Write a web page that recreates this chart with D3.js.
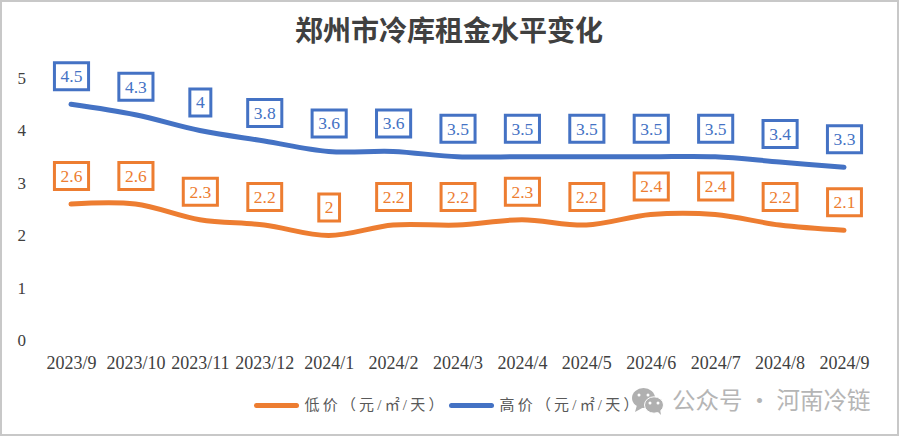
<!DOCTYPE html>
<html>
<head>
<meta charset="utf-8">
<script src="https://cdn.jsdelivr.net/npm/d3@7"></script>
<style>
html, body { margin: 0; padding: 0; background: #fff; }
svg { display: block; }
text { font-family: "Liberation Serif", "Noto Sans CJK SC", serif; }
</style>
</head>
<body>
<div id="chart"></div>
<script>
const months = ["2023/9", "2023/10", "2023/11", "2023/12", "2024/1", "2024/2", "2024/3", "2024/4", "2024/5", "2024/6", "2024/7", "2024/8", "2024/9"];
const lowPrice = [2.6, 2.6, 2.3, 2.2, 2, 2.2, 2.2, 2.3, 2.2, 2.4, 2.4, 2.2, 2.1];
const highPrice = [4.5, 4.3, 4, 3.8, 3.6, 3.6, 3.5, 3.5, 3.5, 3.5, 3.5, 3.4, 3.3];
const yTicks = [0, 1, 2, 3, 4, 5];
const titleText = "郑州市冷库租金水平变化";
const lowName = "低价（元/㎡/天）";
const highName = "高价（元/㎡/天）";
const watermarkText = "公众号 · 河南冷链";

const width = 899, height = 436;
const colorLow = "#ED7D31", colorHigh = "#4472C4", colorText = "#404040";

let svg = d3.select("#chart").append("svg")
	.attr("width", width)
	.attr("height", height);

// grey frame of the screenshot
svg.append("rect")
	.attr("x", 1).attr("y", 1)
	.attr("width", width - 2).attr("height", height - 2)
	.attr("fill", "#fff")
	.attr("stroke", "#c8c8c8")
	.attr("stroke-width", 2);

svg.append("text")
	.attr("x", 449).attr("y", 41)
	.attr("text-anchor", "middle")
	.attr("font-size", 28)
	.attr("font-weight", "bold")
	.attr("fill", colorText)
	.text(titleText);

let x = d3.scalePoint().domain(months).range([71, 844]);
let y = d3.scaleLinear().domain([0, 5]).range([340.5, 78]);

let xAxis = svg.append("g")
	.attr("transform", "translate(0,356)")
	.call(d3.axisBottom(x).tickSize(0).tickPadding(0));
xAxis.select(".domain").remove();
xAxis.selectAll("text")
	.attr("font-size", 18)
	.attr("fill", colorText);

let yAxis = svg.append("g")
	.attr("transform", "translate(26,0)")
	.call(d3.axisLeft(y).tickValues(yTicks).tickFormat(d3.format("d")).tickSize(0).tickPadding(0));
yAxis.select(".domain").remove();
yAxis.selectAll("text")
	.attr("font-size", 17)
	.attr("fill", colorText);

let line = d3.line()
	.x((d, i) => x(months[i]))
	.y((d) => y(d))
	.curve(d3.curveCatmullRom);

function drawSeries(values, color) {
	svg.append("path")
		.datum(values)
		.attr("d", line)
		.attr("fill", "none")
		.attr("stroke", color)
		.attr("stroke-width", 5)
		.attr("stroke-linecap", "round");

	let labels = svg.append("g").selectAll("g")
		.data(values)
		.join("g")
		.attr("transform", (d, i) => `translate(${x(months[i]) + 0.5},${y(d) - 28})`);

	labels.append("text")
		.attr("text-anchor", "middle")
		.attr("dy", "0.34em")
		.attr("font-size", 17.5)
		.attr("fill", color)
		.text((d) => d);

	labels.insert("rect", "text")
		.each(function() {
			let w = this.parentNode.querySelector("text").getBBox().width + 12;
			d3.select(this)
				.attr("x", -w / 2).attr("y", -13.5)
				.attr("width", w).attr("height", 27);
		})
		.attr("fill", "#fff")
		.attr("stroke", color)
		.attr("stroke-width", 3);
}

drawSeries(lowPrice, colorLow);
drawSeries(highPrice, colorHigh);

function drawLegend(lx, name, color) {
	svg.append("line")
		.attr("x1", lx).attr("x2", lx + 40)
		.attr("y1", 405.5).attr("y2", 405.5)
		.attr("stroke", color)
		.attr("stroke-width", 5)
		.attr("stroke-linecap", "round");
	svg.append("text")
		.attr("x", lx + 48).attr("y", 410)
		.attr("font-size", 15)
		.attr("letter-spacing", 3.2)
		.attr("fill", "#595959")
		.text(name);
}

drawLegend(256.5, lowName, colorLow);
drawLegend(451.5, highName, colorHigh);

// WeChat watermark
let mark = svg.append("g").attr("fill", "#b0b0b0");
mark.append("ellipse").attr("cx", 643.5).attr("cy", 398).attr("rx", 11.5).attr("ry", 10);
mark.append("path").attr("d", "M637,405L635,412L644,407Z");
mark.append("ellipse").attr("cx", 654).attr("cy", 405).attr("rx", 9.5).attr("ry", 8.2)
	.attr("stroke", "#fff").attr("stroke-width", 1);
mark.append("path").attr("d", "M657,411L661,415L660,409Z");
let eyes = svg.append("g").attr("fill", "#fff");
[[639, 395], [648, 395], [650, 403], [658, 403]].forEach((p) => {
	eyes.append("circle").attr("cx", p[0]).attr("cy", p[1]).attr("r", 1.5);
});
svg.append("text")
	.attr("x", 672).attr("y", 409)
	.attr("font-size", 23.5)
	.attr("fill", "#b5b5b5")
	.style("font-family", "'Noto Sans CJK SC'")
	.text(watermarkText);
</script>
</body>
</html>
